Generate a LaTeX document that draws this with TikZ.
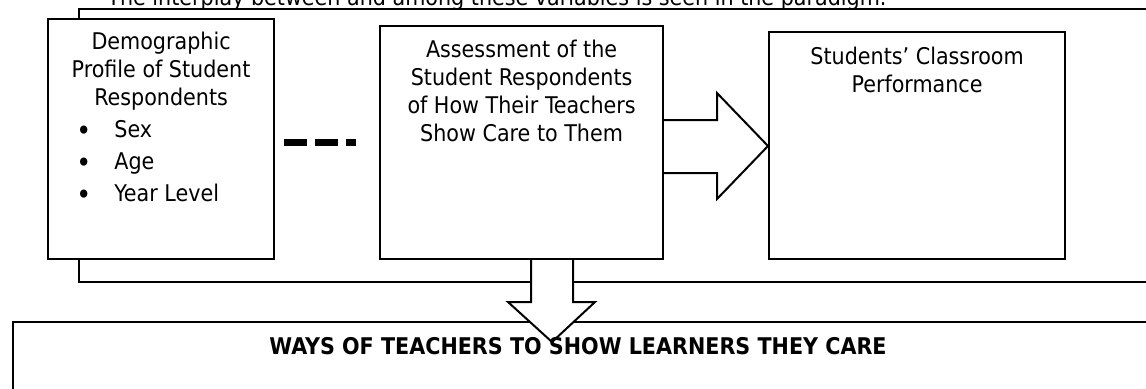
\documentclass[tikz,border=0pt]{standalone}
\usepackage{fontspec}
\setmainfont{DejaVu Sans Condensed}
\usetikzlibrary{positioning}

\newcommand{\itembullet}{\makebox[19pt][l]{\raisebox{-1.5pt}{\fontsize{14}{14}\selectfont\textbullet}}}

\begin{document}
\begin{tikzpicture}[
    x=0.5pt, y=-0.5pt,
    font=\fontsize{11.5}{14}\selectfont,
    box/.style={draw, fill=white, line width=1.1pt, anchor=north west, inner sep=0pt},
    frame/.style={draw, fill=white, line width=1pt},
    barrow/.style={draw, fill=white, line width=1pt, line join=miter},
    link/.style={line width=3.5pt, dash pattern=on 11.5pt off 4pt},
    txt/.style={inner sep=0pt, align=center}
]
\path[use as bounding box, clip] (0,0) rectangle (1146,388);

% back frame and bottom band, both run past the right edge
\draw[frame] (79,9) rectangle (1180,282);
\node[box, minimum width=584pt, minimum height=50pt] (ways) at (12,321) {};

\node[box, minimum width=113pt, minimum height=120pt] (demo) at (47,18) {};
\node[box, minimum width=141.5pt, minimum height=116.5pt] (assess) at (379,25) {};
\node[box, minimum width=148pt, minimum height=113.5pt] (perf) at (768,31) {};

\draw[link, shorten <=4.5pt, shorten >=11.5pt] (demo.east |- assess.west) -- (assess.west);

% block arrows
\draw[barrow] (assess.east |- 0,120) -- (717,120) -- (717,93) -- (perf.west |- 0,146)
    -- (717,199) -- (717,173) -- (assess.east |- 0,173);
\draw[barrow] (531,0 |- assess.south) -- (531,302) -- (508,302) -- (552,342)
    -- (595,302) -- (573,302) -- (573,0 |- assess.south);

\node[anchor=base west, inner sep=0pt] (intro) at (107,5)
    {The interplay between and among these variables is seen in the paradigm.};

\node[txt, below=7pt of demo.north] (demohead) {Demographic\\Profile of Student\\Respondents};
\node[txt, align=left, anchor=north west] (traits) at (76,120)
    {\itembullet Sex\\[2pt]
     \itembullet Age\\[2pt]
     \itembullet Year Level};
\node[txt, below=7.5pt of assess.north] (assesshead)
    {Assessment of the\\Student Respondents\\of How Their Teachers\\Show Care to Them};
\node[txt, below=8pt of perf.north] (perfhead) {Students’ Classroom\\Performance};

\node[anchor=base, inner sep=0pt, font=\fontsize{11.5}{14}\selectfont\bfseries] (wayshead) at (578,354)
    {WAYS OF TEACHERS TO SHOW LEARNERS THEY CARE};
\end{tikzpicture}
\end{document}
